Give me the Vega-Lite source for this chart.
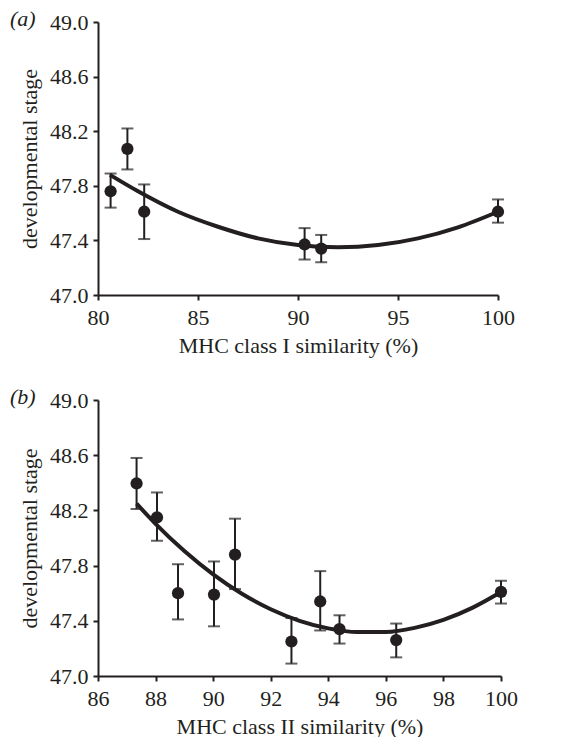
{
  "$schema": "https://vega.github.io/schema/vega-lite/v6.json",
  "background": "white",
  "padding": {"left": 10, "top": 8, "right": 22, "bottom": 0},
  "spacing": 30,
  "config": {
    "view": {"stroke": null},
    "font": "Liberation Serif",
    "axis": {
      "grid": false,
      "labelFlush": false,
      "labelFont": "Liberation Serif",
      "titleFont": "Liberation Serif",
      "labelFontSize": 22,
      "titleFontSize": 22,
      "titleFontWeight": "normal",
      "labelColor": "#231f20",
      "titleColor": "#231f20",
      "domainColor": "#231f20",
      "tickColor": "#231f20",
      "domainWidth": 2,
      "tickWidth": 2,
      "tickSize": 5,
      "labelPadding": 5
    },
    "axisY": {"titlePadding": 8},
    "axisX": {"titlePadding": 7, "labelPadding": 7}
  },
  "datasets": {
    "pointsA": [
      {"sim": 80.63, "stage": 47.76, "lo": 47.64, "hi": 47.89},
      {"sim": 81.47, "stage": 48.07, "lo": 47.92, "hi": 48.22},
      {"sim": 82.31, "stage": 47.61, "lo": 47.41, "hi": 47.81},
      {"sim": 90.33, "stage": 47.37, "lo": 47.26, "hi": 47.49},
      {"sim": 91.16, "stage": 47.34, "lo": 47.24, "hi": 47.44},
      {"sim": 100, "stage": 47.61, "lo": 47.53, "hi": 47.7}
    ],
    "curveA": [
      {"sim": 80.6, "stage": 47.88},
      {"sim": 82, "stage": 47.76},
      {"sim": 84, "stage": 47.61},
      {"sim": 86, "stage": 47.5},
      {"sim": 88, "stage": 47.415},
      {"sim": 90, "stage": 47.366},
      {"sim": 92, "stage": 47.35},
      {"sim": 94, "stage": 47.366},
      {"sim": 96, "stage": 47.415},
      {"sim": 98, "stage": 47.496},
      {"sim": 100, "stage": 47.61}
    ],
    "pointsB": [
      {"sim": 87.34, "stage": 48.395, "lo": 48.21, "hi": 48.58},
      {"sim": 88.05, "stage": 48.15, "lo": 47.98, "hi": 48.33},
      {"sim": 88.78, "stage": 47.6, "lo": 47.41, "hi": 47.81},
      {"sim": 90.03, "stage": 47.59, "lo": 47.36, "hi": 47.83},
      {"sim": 90.76, "stage": 47.88, "lo": 47.63, "hi": 48.14},
      {"sim": 92.72, "stage": 47.25, "lo": 47.09, "hi": 47.42},
      {"sim": 93.72, "stage": 47.54, "lo": 47.33, "hi": 47.76},
      {"sim": 94.39, "stage": 47.34, "lo": 47.235, "hi": 47.44},
      {"sim": 96.36, "stage": 47.26, "lo": 47.135, "hi": 47.38},
      {"sim": 100, "stage": 47.61, "lo": 47.525, "hi": 47.69}
    ],
    "curveB": [
      {"sim": 87.34, "stage": 48.249},
      {"sim": 88, "stage": 48.103},
      {"sim": 89, "stage": 47.906},
      {"sim": 90, "stage": 47.737},
      {"sim": 91, "stage": 47.596},
      {"sim": 92, "stage": 47.484},
      {"sim": 93, "stage": 47.4},
      {"sim": 94, "stage": 47.345},
      {"sim": 95, "stage": 47.318},
      {"sim": 96, "stage": 47.319},
      {"sim": 97, "stage": 47.349},
      {"sim": 98, "stage": 47.407},
      {"sim": 99, "stage": 47.494},
      {"sim": 100, "stage": 47.609}
    ]
  },
  "vconcat": [
    {
      "width": 400,
      "height": 273,
      "title": {
        "text": "(a)",
        "font": "Liberation Serif",
        "fontSize": 22,
        "fontStyle": "italic",
        "fontWeight": "normal",
        "color": "#231f20",
        "anchor": "start",
        "frame": "group",
        "baseline": "middle",
        "offset": 0,
        "dx": -88,
        "dy": 30
      },
      "layer": [
        {
          "data": {"name": "curveA"},
          "mark": {"type": "line", "color": "#231f20", "strokeWidth": 4, "interpolate": "monotone"},
          "encoding": {
            "x": {"field": "sim", "type": "quantitative", "scale": {"domain": [80, 100], "nice": false},
              "axis": {"values": [80, 85, 90, 95, 100]}, "title": "MHC class I similarity (%)"},
            "y": {"field": "stage", "type": "quantitative", "scale": {"domain": [47, 49], "nice": false, "zero": false},
              "axis": {"values": [47, 47.4, 47.8, 48.2, 48.6, 49], "format": ".1f"}, "title": "developmental stage"}
          }
        },
        {
          "data": {"name": "pointsA"},
          "mark": {"type": "errorbar", "color": "#231f20", "thickness": 2, "ticks": {"size": 12, "thickness": 2, "color": "#231f20"}},
          "encoding": {
            "x": {"field": "sim", "type": "quantitative", "title": "MHC class I similarity (%)"},
            "y": {"field": "lo", "type": "quantitative", "title": "developmental stage"},
            "y2": {"field": "hi"}
          }
        },
        {
          "data": {"name": "pointsA"},
          "mark": {"type": "point", "filled": true, "shape": "circle", "size": 150, "color": "#231f20", "opacity": 1},
          "encoding": {
            "x": {"field": "sim", "type": "quantitative", "title": "MHC class I similarity (%)"},
            "y": {"field": "stage", "type": "quantitative", "title": "developmental stage"}
          }
        }
      ]
    },
    {
      "width": 403,
      "height": 276,
      "title": {
        "text": "(b)",
        "font": "Liberation Serif",
        "fontSize": 22,
        "fontStyle": "italic",
        "fontWeight": "normal",
        "color": "#231f20",
        "anchor": "start",
        "frame": "group",
        "baseline": "middle",
        "offset": 0,
        "dx": -88,
        "dy": 30
      },
      "layer": [
        {
          "data": {"name": "curveB"},
          "mark": {"type": "line", "color": "#231f20", "strokeWidth": 4, "interpolate": "monotone"},
          "encoding": {
            "x": {"field": "sim", "type": "quantitative", "scale": {"domain": [86, 100], "nice": false},
              "axis": {"values": [86, 88, 90, 92, 94, 96, 98, 100]}, "title": "MHC class II similarity (%)"},
            "y": {"field": "stage", "type": "quantitative", "scale": {"domain": [47, 49], "nice": false, "zero": false},
              "axis": {"values": [47, 47.4, 47.8, 48.2, 48.6, 49], "format": ".1f"}, "title": "developmental stage"}
          }
        },
        {
          "data": {"name": "pointsB"},
          "mark": {"type": "errorbar", "color": "#231f20", "thickness": 2, "ticks": {"size": 12, "thickness": 2, "color": "#231f20"}},
          "encoding": {
            "x": {"field": "sim", "type": "quantitative", "title": "MHC class II similarity (%)"},
            "y": {"field": "lo", "type": "quantitative", "title": "developmental stage"},
            "y2": {"field": "hi"}
          }
        },
        {
          "data": {"name": "pointsB"},
          "mark": {"type": "point", "filled": true, "shape": "circle", "size": 150, "color": "#231f20", "opacity": 1},
          "encoding": {
            "x": {"field": "sim", "type": "quantitative", "title": "MHC class II similarity (%)"},
            "y": {"field": "stage", "type": "quantitative", "title": "developmental stage"}
          }
        }
      ]
    }
  ]
}
